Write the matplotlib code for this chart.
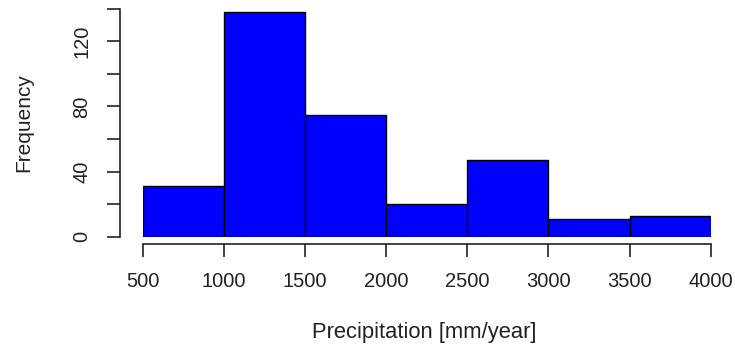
# histogram of annual precipitation (R base graphics look)
import numpy
import matplotlib
matplotlib.use('Agg')
import matplotlib.pyplot as plt

# bin edges and counts
bin_edges = [500, 1000, 1500, 2000, 2500, 3000, 3500, 4000]
counts = [31, 138, 75, 20, 47, 11, 13]
y_ticks = [0, 20, 40, 60, 80, 100, 120, 140]
y_labels = ['0', '', '40', '', '80', '', '120', '']

plt.rcParams['font.family'] = ['Liberation Sans', 'DejaVu Sans']

W, H = 735, 347
fig = plt.figure(figsize=(W / 100, H / 100), dpi=100)
# axes box in pixels: x 142.7..710.7, y (from top) 8.7..236.7
ax = fig.add_axes([142.7 / W, (H - 236.7) / H, 568 / W, 228 / H])

lefts = numpy.array(bin_edges[:-1])
widths = numpy.diff(bin_edges)
ax.bar(lefts, counts, width=widths, align='edge', color='#0000ff',
       edgecolor='black', linewidth=1.0)

ax.set_xlim(500, 4000)
ax.set_ylim(0, 140)

# detached R style axes
for s in ['top', 'right']:
    ax.spines[s].set_visible(False)
ax.spines['left'].set_position(('outward', 16.3))
ax.spines['bottom'].set_position(('outward', 5.5))
ax.spines['left'].set_bounds(0, 140)
ax.spines['bottom'].set_bounds(500, 4000)
for s in ['left', 'bottom']:
    ax.spines[s].set_linewidth(1.2)
    ax.spines[s].set_color('#222222')

ax.set_xticks(bin_edges)
ax.set_xticklabels([str(v) for v in bin_edges])
ax.set_yticks(y_ticks)
ax.set_yticklabels(y_labels, rotation=90, va='center')
ax.tick_params(axis='both', length=9.7, width=1.2, color='#222222',
               labelsize=14.5, labelcolor='#222222')
ax.tick_params(axis='x', pad=10)
ax.tick_params(axis='y', pad=11)

ax.set_xlabel('Precipitation [mm/year]', fontsize=15.8, color='#222222')
ax.set_ylabel('Frequency', fontsize=15, color='#222222')
ax.xaxis.set_label_coords(424 / W, 1 - 343 / H, transform=fig.transFigure)
ax.yaxis.set_label_coords(14 / W, 1 - 123 / H, transform=fig.transFigure)
ax.xaxis.label.set_va('bottom')
ax.yaxis.label.set_va('top')

fig.savefig('out.png', dpi=100)
